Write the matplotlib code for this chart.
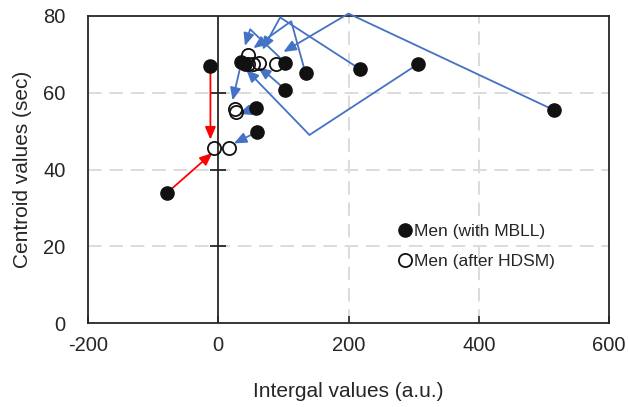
import matplotlib.pyplot as plt

plt.rcParams['font.family'] = ['Liberation Sans', 'DejaVu Sans']
plt.rcParams['axes.unicode_minus'] = False

# Men with MBLL (filled) and after HDSM (open)
mbll_x = [-78, -12, 35, 41, 103, 134, 103, 58, 60, 217, 307, 515]
mbll_y = [34, 67, 68, 67.5, 67.8, 65, 60.8, 56, 49.8, 66.2, 67.5, 55.5]

hdsm_x = [-6, 17, 25, 28, 46, 45, 54, 63, 88]
hdsm_y = [45.6, 45.6, 55.8, 55.0, 69.8, 67.5, 67.6, 67.8, 67.6]

# arrow paths, last point is the arrow tip
red_paths = [
    ([-78, -9], [34, 44.3]),
    ([-12, -12], [67, 47.8]),
]
blue_paths = [
    ([60, 24], [49.8, 46.8]),
    ([58, 31], [56, 54.5]),
    ([35, 22], [67.5, 58.0]),
    ([515, 200, 100], [55.5, 80.6, 70.6]),
    ([217, 95, 68], [66.2, 79.6, 71.2]),
    ([134, 112, 54], [65, 78.6, 71.6]),
    ([103, 78, 61], [60.8, 64.5, 66.6]),
    ([103, 49, 41], [67.8, 76.5, 72.2]),
    ([307, 140, 43], [67.5, 49, 66.0]),
]

xticks = [-200, 0, 200, 400, 600]
yticks = [0, 20, 40, 60, 80]

fig = plt.figure(figsize=(6.28, 4.07), dpi=100)
ax = fig.add_axes([0.140, 0.206, 0.830, 0.755])

ax.set_xlim(-200, 600)
ax.set_ylim(0, 80)

grid_kw = dict(color='#dcdcdc', lw=1.4, dashes=(7, 4), zorder=1)
for v in [20, 40, 60]:
    ax.axhline(v, **grid_kw)
for v in [200, 400]:
    ax.axvline(v, **grid_kw)

# vertical axis crossing at x = 0
ax.axvline(0, color='#262626', lw=1.3, zorder=2)
ax.plot([0, 0, 0], [20, 40, 60], ls='none', marker='_', ms=11, mew=1.3,
        color='#262626', zorder=2)


def draw_arrow(xs, ys, color):
    if len(xs) > 2:
        ax.plot(xs[:-1], ys[:-1], color=color, lw=1.3, zorder=3,
                clip_on=False, solid_capstyle='butt')
    ax.annotate('', xy=(xs[-1], ys[-1]), xytext=(xs[-2], ys[-2]),
                arrowprops=dict(arrowstyle='-|>,head_length=0.75,head_width=0.32',
                                color=color, lw=1.3, shrinkA=0, shrinkB=0),
                zorder=3, annotation_clip=False)


for xs, ys in blue_paths:
    draw_arrow(xs, ys, '#4472c4')
for xs, ys in red_paths:
    draw_arrow(xs, ys, '#ff0000')

ax.plot(mbll_x, mbll_y, ls='none', marker='o', ms=9.5, color='#111111',
        label='Men (with MBLL)', zorder=4)
ax.plot(hdsm_x, hdsm_y, ls='none', marker='o', ms=9.5, mfc='none', mew=1.3,
        mec='#111111', label='Men (after HDSM)', zorder=5)

ax.set_xticks(xticks)
ax.set_yticks(yticks)
ax.tick_params(axis='x', direction='in', length=5, width=1.2, color='#262626',
               labelsize=14.5, labelcolor='#262626', pad=9)
ax.tick_params(axis='y', length=0, labelsize=14.5, labelcolor='#262626', pad=16)
for s in ax.spines.values():
    s.set_color('#262626')
    s.set_linewidth(1.3)

ax.set_xlabel('Intergal values (a.u.)', fontsize=15, color='#262626', labelpad=20)
ax.set_ylabel('Centroid values (sec)', fontsize=15, color='#262626', labelpad=8)

ax.legend(loc='center left', bbox_to_anchor=(0.585, 0.25), frameon=False,
          fontsize=12.5, handlelength=0.6, handletextpad=0.2, labelspacing=0.85,
          borderaxespad=0, labelcolor='#262626')

fig.savefig('out.png', dpi=100)
